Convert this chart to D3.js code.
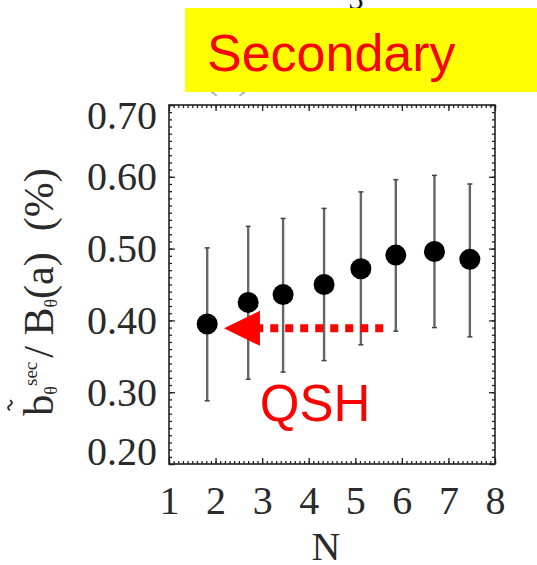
<!DOCTYPE html>
<html>
<head>
<meta charset="utf-8">
<script src="https://cdn.jsdelivr.net/npm/d3@7"></script>
<style>
  html, body { margin: 0; padding: 0; background: #fff; }
  svg { display: block; }
</style>
</head>
<body>
<svg id="chart" width="537" height="565"></svg>
<script>
// ---- data ----
const nValues   = [1.82, 2.70, 3.45, 4.33, 5.12, 5.87, 6.70, 7.46];
const meanVals  = [0.395, 0.425, 0.436, 0.450, 0.472, 0.491, 0.496, 0.485];
const upperVals = [0.501, 0.531, 0.542, 0.556, 0.579, 0.596, 0.602, 0.590];
const lowerVals = [0.288, 0.318, 0.328, 0.344, 0.366, 0.385, 0.390, 0.377];
const xTicks = [1, 2, 3, 4, 5, 6, 7, 8];
const yTicks = [0.20, 0.30, 0.40, 0.50, 0.60, 0.70];
const xMinorTicks = d3.range(10, 81).map(v => v / 10);
const yMinorTicks = d3.range(20, 71).map(v => v / 100);
const titleText = "Secondary";
const noteText = "QSH";
const xLabel = "N";
// annotation arrow (data units): tail -> tip
const arrowTail = [5.60, 0.389];
const arrowTip  = [2.18, 0.389];
const noteAt    = [2.95, 0.26];

// ---- layout ----
const svg = d3.select("#chart");
const X0 = 169, X1 = 495, Y0 = 464, Y1 = 105;
const x = d3.scaleLinear().domain([1, 8]).range([X0, X1]);
const y = d3.scaleLinear().domain([0.2, 0.7]).range([Y0, Y1]);

const serif = "'Liberation Serif', 'Times New Roman', serif";
const sans = "'Liberation Sans', Arial, Helvetica, sans-serif";

// hidden panel label & partial glyph behind the yellow box
svg.append("text").attr("x", 356).attr("y", 9).attr("text-anchor", "middle")
  .attr("font-family", serif).attr("font-size", 30).attr("fill", "#111").text("3");
svg.append("text").attr("x", 228).attr("y", 88).attr("text-anchor", "middle")
  .attr("font-family", serif).attr("font-size", 40).attr("fill", "#aaa").text("(b)");

// yellow title box
svg.append("rect").attr("x", 185).attr("y", 8).attr("width", 352).attr("height", 84)
  .attr("fill", "#ffff00");
svg.append("text").attr("x", 207).attr("y", 71)
  .attr("font-family", sans).attr("font-size", 52).attr("fill", "#ff0000").text(titleText);

// ---- axes ----
function styleAxis(g) {
  g.select(".domain").remove();
  g.selectAll(".tick line").attr("stroke", "#222").attr("stroke-width", 1.3);
  g.selectAll(".tick text").attr("font-family", serif).attr("font-size", 40).attr("fill", "#2a2a2a");
}
// minor ticks
svg.append("g").attr("transform", `translate(${X0},0)`)
  .call(d3.axisLeft(y).tickValues(yMinorTicks).tickSize(-3).tickFormat(""))
  .call(styleAxis);
svg.append("g").attr("transform", `translate(${X1},0)`)
  .call(d3.axisRight(y).tickValues(yMinorTicks).tickSize(-3).tickFormat(""))
  .call(styleAxis);
svg.append("g").attr("transform", `translate(0,${Y0})`)
  .call(d3.axisBottom(x).tickValues(xMinorTicks).tickSize(-3).tickFormat(""))
  .call(styleAxis);
svg.append("g").attr("transform", `translate(0,${Y1})`)
  .call(d3.axisTop(x).tickValues(xMinorTicks).tickSize(-3).tickFormat(""))
  .call(styleAxis);
// major ticks
const yAxisG = svg.append("g").attr("transform", `translate(${X0},0)`)
  .call(d3.axisLeft(y).tickValues(yTicks).tickSize(-6).tickPadding(12).tickFormat(d3.format(".2f")))
  .call(styleAxis);
yAxisG.selectAll(".tick text").attr("y", d => d === 0.7 ? 11 : (d === 0.2 ? -12 : 0));
svg.append("g").attr("transform", `translate(${X1},0)`)
  .call(d3.axisRight(y).tickValues(yTicks).tickSize(-6).tickFormat(""))
  .call(styleAxis);
svg.append("g").attr("transform", `translate(0,${Y0})`)
  .call(d3.axisBottom(x).tickValues(xTicks).tickSize(-6).tickPadding(22).tickFormat(d3.format("d")))
  .call(styleAxis);
svg.append("g").attr("transform", `translate(0,${Y1})`)
  .call(d3.axisTop(x).tickValues(xTicks).tickSize(-6).tickFormat(""))
  .call(styleAxis);

// frame
svg.append("rect").attr("x", X0).attr("y", Y1).attr("width", X1 - X0).attr("height", Y0 - Y1)
  .attr("fill", "none").attr("stroke", "#222").attr("stroke-width", 1.6);

// x label
svg.append("text").attr("x", 326).attr("y", 560).attr("text-anchor", "middle")
  .attr("font-family", serif).attr("font-size", 40).attr("fill", "#2a2a2a").text(xLabel);

// y label (rotated)
const yl = svg.append("g").attr("transform", "translate(53,292) rotate(-90)");
const ylt = yl.append("text").attr("text-anchor", "middle")
  .attr("font-family", serif).attr("font-size", 42).attr("fill", "#2a2a2a");
ylt.append("tspan").text("b");
ylt.append("tspan").attr("font-size", 18).attr("dy", 4).text("θ");
ylt.append("tspan").attr("font-size", 19).attr("dy", -20).text("sec");
ylt.append("tspan").attr("dy", 16).attr("dx", 4).text("/ B");
ylt.append("tspan").attr("font-size", 18).attr("dy", 4).text("θ");
ylt.append("tspan").attr("dy", -4).text("(a)\u00a0\u00a0(%)");
// tilde over the b
const bBox = ylt.node().getExtentOfChar(0);
const bc = bBox.x + bBox.width / 2;
yl.append("path")
  .attr("d", `M${bc - 5},-43 q2.5,-4 5,0 t5,0`)
  .attr("fill", "none").attr("stroke", "#2a2a2a").attr("stroke-width", 1.8);

// ---- error bars & points ----
const data = nValues.map((n, i) => ({ n, m: meanVals[i], hi: upperVals[i], lo: lowerVals[i] }));
const eb = svg.append("g");
eb.selectAll("line.bar").data(data).join("line").attr("class", "bar")
  .attr("x1", d => x(d.n)).attr("x2", d => x(d.n))
  .attr("y1", d => y(d.hi)).attr("y2", d => y(d.lo))
  .attr("stroke", "#666").attr("stroke-width", 2.4);
eb.selectAll("line.capt").data(data).join("line").attr("class", "capt")
  .attr("x1", d => x(d.n) - 2.5).attr("x2", d => x(d.n) + 2.5)
  .attr("y1", d => y(d.hi)).attr("y2", d => y(d.hi))
  .attr("stroke", "#444").attr("stroke-width", 1.5);
eb.selectAll("line.capb").data(data).join("line").attr("class", "capb")
  .attr("x1", d => x(d.n) - 2.5).attr("x2", d => x(d.n) + 2.5)
  .attr("y1", d => y(d.lo)).attr("y2", d => y(d.lo))
  .attr("stroke", "#444").attr("stroke-width", 1.5);
svg.append("g").selectAll("circle").data(data).join("circle")
  .attr("cx", d => x(d.n)).attr("cy", d => y(d.m)).attr("r", 10.5)
  .attr("fill", "#000");

// ---- annotation ----
const headLen = 36, headHalf = 17.5;
const tipX = x(arrowTip[0]), tipY = y(arrowTip[1]);
const tailX = x(arrowTail[0]);
svg.append("line")
  .attr("x1", tailX).attr("x2", tipX + headLen - 2)
  .attr("y1", tipY).attr("y2", tipY)
  .attr("stroke", "#ff0000").attr("stroke-width", 8)
  .attr("stroke-dasharray", "8,7");
svg.append("path")
  .attr("d", `M${tipX},${tipY} L${tipX + headLen},${tipY - headHalf} L${tipX + headLen},${tipY + headHalf} Z`)
  .attr("fill", "#ff0000");
svg.append("text").attr("x", x(noteAt[0])).attr("y", y(noteAt[1]))
  .attr("font-family", sans).attr("font-size", 51).attr("fill", "#ff0000").text(noteText);
</script>
</body>
</html>
